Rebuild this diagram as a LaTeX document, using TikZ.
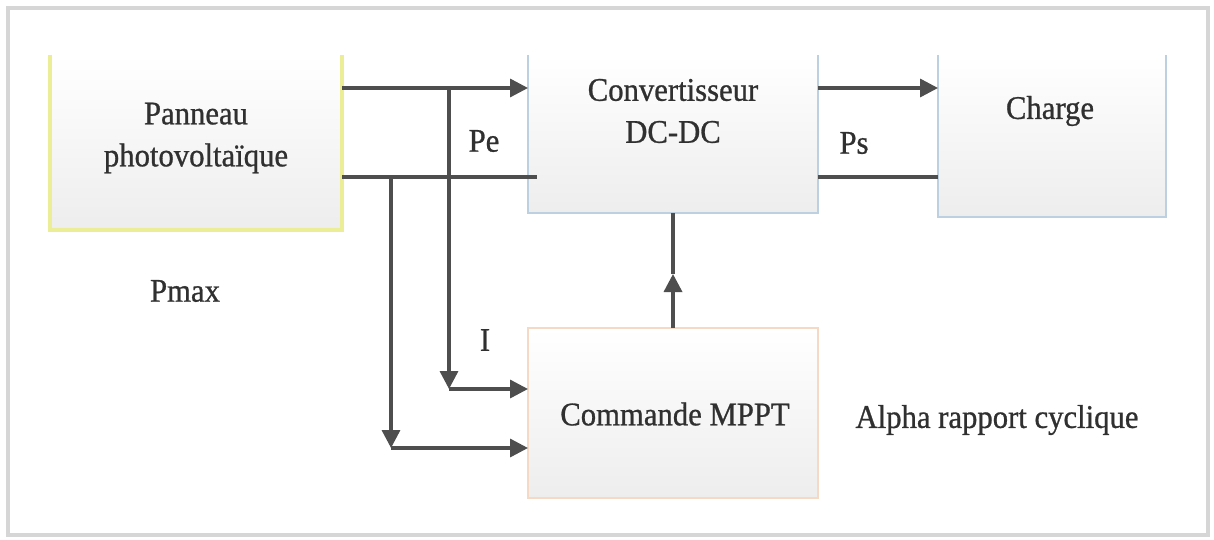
\documentclass[tikz,border=0pt]{standalone}
\usepackage{fontspec}
\setmainfont{Liberation Serif}[FakeStretch=0.93,FakeBold=0.8]
\usetikzlibrary{arrows.meta}
\definecolor{ln}{HTML}{4E4E4E}
\definecolor{tx}{HTML}{303030}
\definecolor{frm}{HTML}{D6D6D6}
\definecolor{yel}{HTML}{EBEE96}
\definecolor{blu}{HTML}{BCD0E2}
\definecolor{pch}{HTML}{F6D9C4}
\begin{document}
\begin{tikzpicture}[x=1pt,y=-1pt,
  box/.style={inner sep=0pt, top color=white, bottom color=gray!14, draw=none},
  lbl/.style={inner sep=0pt, text=tx, font=\fontsize{33}{42}\selectfont, align=center},
  wire/.style={draw=ln, line width=3.4pt},
  arr/.style={wire, -{Triangle[length=18pt,width=18pt]}},
  edgeyel/.style={draw=yel, line width=3.5pt},
  edgeblu/.style={draw=blu, line width=2pt},
  edgepch/.style={draw=pch, line width=2pt}]
\useasboundingbox[fill=white] (0,0) rectangle (1214,540);
\draw[frm, line width=3.5pt] (8,8) rectangle (1208,535);

% boxes
\node[box, minimum width=292pt, minimum height=175pt] (pv) at (196,142.5) {};
\node[box, minimum width=290pt, minimum height=158pt] (conv) at (673,134) {};
\node[box, minimum width=228pt, minimum height=162pt] (load) at (1052,136) {};
\node[box, minimum width=290pt, minimum height=170pt] (mppt) at (673,413) {};

\draw[edgeyel] (pv.north west) -- (pv.south west) -- (pv.south east) -- (pv.north east);
\draw[edgeblu] (conv.north west) -- (conv.south west) -- (conv.south east) -- (conv.north east);
\draw[edgeblu] (load.north west) -- (load.south west) -- (load.south east) -- (load.north east);
\draw[edgepch] (mppt.north west) rectangle (mppt.south east);

% box texts
\node[lbl] (pvt) at (196,138) {Panneau\\photovolta\"ique};
\node[lbl] (convt) at (673,111) {Convertisseur\\DC-DC};
\node[lbl] (loadt) at (1050,111) {Charge};
\node[lbl] (mpptt) at (675,414) {Commande MPPT};

% free labels
\node[lbl] (pe) at (484,141) {Pe};
\node[lbl] (ps) at (854,143) {Ps};
\node[lbl] (pmax) at (185,291) {Pmax};
\node[lbl] (ii) at (485,340) {I};
\node[lbl] (alpha) at (997,420) {Alpha rapport cyclique};

% coordinates
\coordinate (pvA) at (342,88);
\coordinate (pvB) at (342,177);
\coordinate (cvA) at (528,88);
\coordinate (cvB) at (537,177);
\coordinate (j1) at (449,88);
\coordinate (j2) at (391,177);
\coordinate (c1) at (449,389);
\coordinate (c2) at (391,448);
\coordinate (m1) at (528,389);
\coordinate (m2) at (528,448);
\coordinate (coA) at (818,88);
\coordinate (coB) at (818,177);
\coordinate (ldA) at (938,88);
\coordinate (ldB) at (938,177);
\coordinate (mid) at (673,274);

% connectors
\draw[arr] (pvA) -- (cvA);
\draw[wire] (pvB) -- (cvB);
\draw[arr] (j1) -- (c1);
\draw[arr] (c1) -- (m1);
\draw[arr] (j2) -- (c2);
\draw[arr] (c2) -- (m2);
\draw[arr] (coA) -- (ldA);
\draw[wire] (coB) -- (ldB);
\draw[arr] (mppt.north) -- (mid);
\draw[wire] (mid) -- (conv.south);
\end{tikzpicture}
\end{document}
